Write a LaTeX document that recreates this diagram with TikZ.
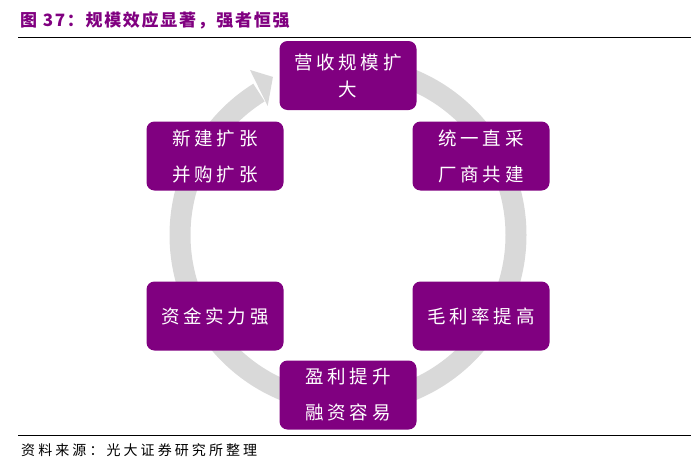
\documentclass[tikz,border=0pt]{standalone}
\usepackage{fontspec}
\newfontfamily\cjk[LetterSpace=20]{Noto Sans CJK SC}
\newfontfamily\cjktitle[LetterSpace=10]{Noto Sans CJK SC}
\newfontfamily\cjksrc[LetterSpace=22]{Noto Sans CJK SC}
\definecolor{purp}{HTML}{800080}
\definecolor{ringc}{HTML}{D9D9D9}
\tikzset{
  box/.style={fill=purp, rounded corners=8pt, minimum width=137pt, minimum height=69pt,
    inner sep=0pt, text=white, align=center, font=\cjk\fontsize{18.5}{27}\selectfont},
  ringline/.style={draw=ringc, line width=21pt},
  rule/.style={draw=black, line width=1pt}
}
\begin{document}
\begin{tikzpicture}[x=1pt,y=-1pt]
\useasboundingbox (0,0) rectangle (691,466);
% title and rules
\node[anchor=west, inner sep=0pt, text=purp, font=\cjktitle\bfseries\fontsize{17}{20}\selectfont] (title) at (20,20) {图 37：规模效应显著，强者恒强};
\coordinate (t1) at (18,37);
\coordinate (t2) at (691,37);
\draw[rule] (t1) -- (t2);
\coordinate (b1) at (18,435);
\coordinate (b2) at (691,435);
\draw[rule] (b1) -- (b2);
\node[anchor=west, inner sep=0pt, text=black, font=\cjksrc\fontsize{14}{16}\selectfont] (src) at (21,450) {资料来源：光大证券研究所整理};
% ring with arrow
\coordinate (c) at (348,235);
\draw[ringline] ([shift={(90:168pt)}]c) arc[start angle=90, end angle=-238, radius=168pt];
\fill[ringc] ([shift={(120.7:192pt)}]c) -- ([shift={(115.4:175pt)}]c) -- ([shift={(121.9:152pt)}]c) -- cycle;
% nodes
\node[box] (n1) at (348,75.5) {营收规模扩\\大};
\node[box] (n2) at (481,156) {统一直采\\[9pt]厂商共建};
\node[box] (n3) at (481,316) {毛利率提高};
\node[box] (n4) at (348,395) {盈利提升\\[9pt]融资容易};
\node[box] (n5) at (215,316) {资金实力强};
\node[box] (n6) at (215,156) {新建扩张\\[9pt]并购扩张};
\end{tikzpicture}
\end{document}
